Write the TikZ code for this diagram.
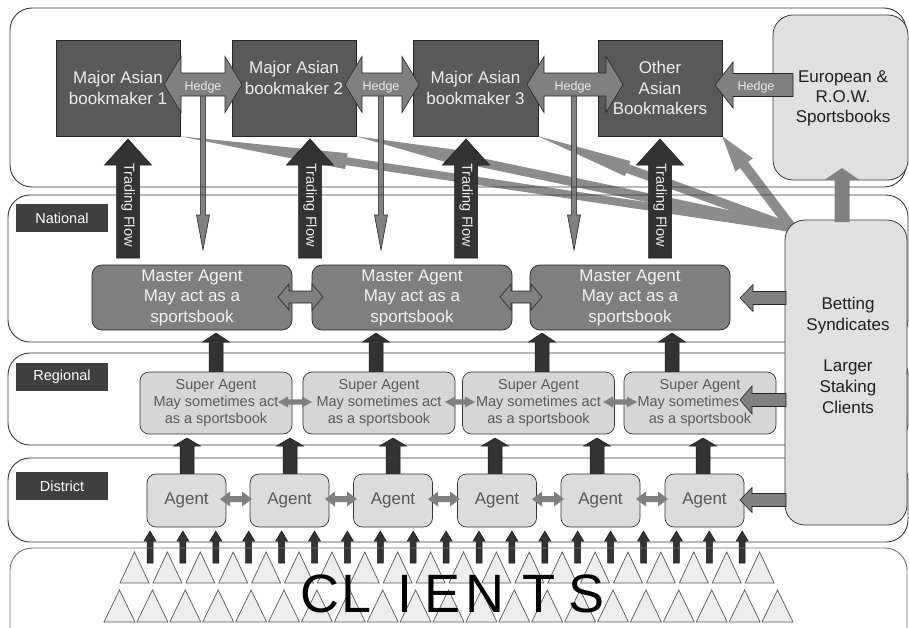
\documentclass[tikz,border=0pt]{standalone}
\usepackage{fontspec}
\setmainfont{Liberation Sans}
\usetikzlibrary{calc}
\definecolor{bkgray}{HTML}{595959}
\definecolor{arrgray}{HTML}{808080}
\definecolor{darkarr}{HTML}{333333}
\definecolor{magray}{HTML}{7F7F7F}
\definecolor{sagray}{HTML}{D6D6D6}
\definecolor{agray}{HTML}{DCDCDC}
\definecolor{lgray}{HTML}{E0E0E0}
\definecolor{labgray}{HTML}{404040}
\definecolor{diaggray}{HTML}{8C8C8C}
\definecolor{linegray}{HTML}{3A3A3A}
\definecolor{txtgray}{HTML}{595959}
\definecolor{trifill}{HTML}{EDEDED}
\newcommand\fsz[2]{\fontsize{#1}{#2}\selectfont}
% style, x, ytip, ybot, half shaft, half head, head length
\newcommand\blkup[7]{\path[#1] ({#2-#5},#4) -- ({#2-#5},{#3+#7}) -- ({#2-#6},{#3+#7}) -- (#2,#3) -- ({#2+#6},{#3+#7}) -- ({#2+#5},{#3+#7}) -- ({#2+#5},#4) -- cycle;}
% style, x, ytop, ytip, hs, hh, hl
\newcommand\blkdown[7]{\path[#1] ({#2-#5},#3) -- ({#2-#5},{#4-#7}) -- ({#2-#6},{#4-#7}) -- (#2,#4) -- ({#2+#6},{#4-#7}) -- ({#2+#5},{#4-#7}) -- ({#2+#5},#3) -- cycle;}
% style, xtip, xtail, y, hs, hh, hl
\newcommand\blkleft[7]{\path[#1] (#2,#4) -- ({#2+#7},{#4-#6}) -- ({#2+#7},{#4-#5}) -- (#3,{#4-#5}) -- (#3,{#4+#5}) -- ({#2+#7},{#4+#5}) -- ({#2+#7},{#4+#6}) -- cycle;}
% style, xl, xr, y, hs, hh, hl
\newcommand\blkdbl[7]{\path[#1] (#2,#4) -- ({#2+#7},{#4-#6}) -- ({#2+#7},{#4-#5}) -- ({#3-#7},{#4-#5}) -- ({#3-#7},{#4-#6}) -- (#3,#4) -- ({#3-#7},{#4+#6}) -- ({#3-#7},{#4+#5}) -- ({#2+#7},{#4+#5}) -- ({#2+#7},{#4+#6}) -- cycle;}
% style, tip, source, head length, half head, half shaft
\newcommand\blkdiag[6]{%
 \coordinate (dh) at ($(#2)!#4pt!(#3)$);
 \path[#1] (#2) -- ($(dh)!#5pt!90:(#3)$) -- ($(dh)!#6pt!90:(#3)$) -- ($(#3)!#6pt!-90:(dh)$) -- ($(#3)!#6pt!90:(dh)$) -- ($(dh)!#6pt!-90:(#3)$) -- ($(dh)!#5pt!-90:(#3)$) -- cycle;}
\pgfdeclarelayer{bg}
\pgfdeclarelayer{mid}
\pgfsetlayers{bg,mid,main}
\begin{document}
\begin{tikzpicture}[x=1pt,y=-1pt,
 bk/.style={draw=black!85, line width=0.6pt, fill=bkgray, text=white!93!black, minimum width=124, minimum height=96, inner sep=0pt, align=center, font=\fsz{17}{20.5}},
 lbox/.style={draw=linegray, line width=0.8pt, fill=lgray, rounded corners=20pt, inner sep=0pt},
 ma/.style={draw=black!85, line width=0.7pt, fill=magray, rounded corners=10pt, minimum width=200, minimum height=65, inner sep=0pt, align=center, text=white!95!black, font=\fsz{17}{20.5}},
 sa/.style={draw=black!80, line width=0.7pt, fill=sagray, rounded corners=9pt, minimum width=152, minimum height=62, inner sep=0pt, align=center, text=txtgray, font=\fsz{14.5}{17}},
 ag/.style={draw=black!80, line width=0.7pt, fill=agray, rounded corners=9pt, minimum width=79, minimum height=53, inner sep=0pt, text=txtgray, font=\fsz{17}{20}},
 lab/.style={fill=labgray, minimum width=92, minimum height=28, inner sep=0pt, text=white, font=\fsz{14.5}{17}},
 band/.style={draw=linegray, line width=0.9pt, rounded corners=22pt},
 grayarr/.style={fill=arrgray, draw=black!85, line width=0.6pt},
 plaingray/.style={fill=arrgray},
 diagarr/.style={fill=diaggray},
 darkup/.style={fill=darkarr, draw=black!90, line width=0.5pt},
 tri/.style={fill=trifill, draw=black!65, line width=0.7pt},
 hedgetxt/.style={text=white!92!black, font=\fsz{12.5}{15}, inner sep=0pt},
 flowtxt/.style={text=white!92!black, font=\fsz{14.5}{17}, inner sep=0pt, rotate=-90},
 cltxt/.style={text=black, font=\fsz{54}{60}, inner sep=0pt, anchor=base west}]
\useasboundingbox (0,0) rectangle (909,627);
\begin{pgfonlayer}{bg}
\fill[white] (0,0) rectangle (909,627);
\end{pgfonlayer}

% ---------- boxes ----------
\node[bk] (b1) at (118,88) {Major Asian\\bookmaker 1};
\node[bk] (b2) at (294,88) {};
\node[align=center, text=white!93!black, font=\fsz{17}{20.5}, inner sep=0pt] (b2t) at (294,78) {Major Asian\\bookmaker 2};
\node[bk, minimum width=125] (b3) at (475.5,88) {Major Asian\\bookmaker 3};
\node[bk] (b4) at (660,88) {Other\\Asian\\Bookmakers};
\node[lbox, minimum width=135, minimum height=165] (eu) at (840.5,97.5) {};
\node[align=center, text=black!88, font=\fsz{17}{20}, inner sep=0pt] (eut) at (843,98) {European \&\\R.O.W.\\Sportsbooks};
\node[lbox, minimum width=122, minimum height=305] (syn) at (846,372.5) {};
\node[align=center, text=black!88, font=\fsz{17}{20.8}, inner sep=0pt] (synt) at (848,355.5) {Betting\\Syndicates\\\mbox{}\\Larger\\Staking\\Clients};

\node[ma] (m1) at (192,297.5) {Master Agent\\May act as a\\sportsbook};
\node[ma] (m2) at (412,297.5) {Master Agent\\May act as a\\sportsbook};
\node[ma] (m3) at (630,297.5) {Master Agent\\May act as a\\sportsbook};

\node[sa] (s1) at (216,403) {Super Agent\\May sometimes act\\as a sportsbook};
\node[sa] (s2) at (379,403) {Super Agent\\May sometimes act\\as a sportsbook};
\node[sa] (s3) at (538.5,403) {Super Agent\\May sometimes act\\as a sportsbook};
\node[sa] (s4) at (700,403) {Super Agent\\May sometimes act\\as a sportsbook};

\node[ag] (a1) at (186.5,500.5) {Agent};
\node[ag] (a2) at (289.5,500.5) {Agent};
\node[ag] (a3) at (393,500.5) {Agent};
\node[ag] (a4) at (497,500.5) {Agent};
\node[ag] (a5) at (600.5,500.5) {Agent};
\node[ag] (a6) at (704.5,500.5) {Agent};

\node[lab] (lnat) at (62,218) {National};
\node[lab] (lreg) at (62,377) {Regional};
\node[lab] (ldis) at (62,486) {District};

\coordinate (src) at (792,228);

% ---------- background arrows ----------
\begin{pgfonlayer}{bg}
\blkdiag{diagarr}{b1.south east}{src}{168}{8}{4}
\blkdiag{diagarr}{b2.south east}{src}{110}{8}{4.5}
\blkdiag{diagarr}{b3.south east}{src}{95}{8}{4.5}
\blkdiag{diagarr}{b4.south east}{src}{36}{11}{5}
% trading flow
\foreach \tx/\nm in {128/f1,310/f2,466/f3,660/f4}{
  \blkup{darkup}{\tx}{139}{258}{11.5}{23.5}{26}
  \node[flowtxt] (\nm) at (\tx,205) {Trading Flow};
}
% hedge down arrows
\foreach \dx in {203,381,574}{
  \blkdown{grayarr}{\dx}{95}{250}{2.6}{6.5}{35}
}
% master agent up arrows
\foreach \ux in {216,376,542,672}{
  \blkup{darkup}{\ux}{333}{372}{7}{13.5}{9}
}
% agent up arrows
\foreach \ux in {187,290,393,495,597,703}{
  \blkup{darkup}{\ux}{438}{474}{7}{13.5}{8}
}
% triangles
\foreach \k in {0,...,19}{
  \pgfmathsetmacro\tl{120+32.9*\k}
  \path[tri] (\tl,583) -- ({\tl+14.5},552) -- ({\tl+29},583) -- cycle;
}
\foreach \k in {0,...,20}{
  \pgfmathsetmacro\tl{104+32.9*\k}
  \path[tri] (\tl,622) -- ({\tl+15.5},590) -- ({\tl+31},622) -- cycle;
}
% client arrows
\foreach \i in {0,...,18}{
  \pgfmathsetmacro\cx{150+32.9*\i}
  \blkup{darkup}{\cx}{531}{563}{3}{6}{10}
}
\end{pgfonlayer}

% ---------- bands ----------
\begin{pgfonlayer}{mid}
\draw[band] (10,8) rectangle (906,187);
\draw[band] (8,195) rectangle (908,342);
\draw[band] (8,353) rectangle (908,445);
\draw[band] (8,458) rectangle (908,542);
\begin{scope}
\clip (0,0) rectangle (909,627);
\draw[band, draw=black!55] (10,548) rectangle (907,660);
\end{scope}
\end{pgfonlayer}

% ---------- overlay arrows ----------
\blkup{plaingray}{842}{168}{222}{7.5}{17.5}{12}
\blkdbl{grayarr}{164}{242}{84.5}{11.5}{28}{17}
\blkdbl{grayarr}{345}{419}{84.5}{11.5}{28}{17}
\blkdbl{grayarr}{527}{623}{84.5}{11.5}{28}{17}
\blkleft{grayarr}{715}{793}{85}{11.5}{23}{18}
\node[hedgetxt] (h1) at (203,87) {Hedge};
\node[hedgetxt] (h2) at (381,87) {Hedge};
\node[hedgetxt] (h3) at (573,87) {Hedge};
\node[hedgetxt] (h4) at (756,87) {Hedge};

\blkdbl{grayarr}{278}{323}{297}{6}{13}{11}
\blkdbl{grayarr}{500}{542}{297}{6}{13}{11}

\blkdbl{plaingray}{278}{312}{402}{2.6}{5.5}{10}
\blkdbl{plaingray}{445}{475}{402}{2.6}{5.5}{10}
\blkdbl{plaingray}{603}{637}{402}{2.6}{5.5}{10}

\blkdbl{plaingray}{220}{252}{499}{3}{7.5}{10}
\blkdbl{plaingray}{325}{357}{499}{3}{7.5}{10}
\blkdbl{plaingray}{428}{460}{499}{3}{7.5}{10}
\blkdbl{plaingray}{532}{564}{499}{3}{7.5}{10}
\blkdbl{plaingray}{636}{668}{499}{3}{7.5}{10}

\blkleft{grayarr}{740}{786}{298}{6.5}{13.5}{13}
\blkleft{grayarr}{740}{786}{400}{6.5}{14}{12}
\blkleft{grayarr}{740}{786}{500}{6.5}{12.5}{12}

% ---------- CLIENTS ----------
\node[cltxt] (cl) at (300.2,612) {C\kern2.6ptL\kern25.7ptI\kern12ptE\kern4.7ptN\kern18.1ptT\kern12.5ptS};
\end{tikzpicture}
\end{document}
